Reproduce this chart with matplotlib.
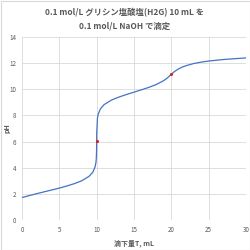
import matplotlib
matplotlib.use("Agg")
import matplotlib.pyplot as plt

# Titration curve values
volume_ml = [0, 1, 2, 3, 4, 5, 6, 7, 8, 9, 9.5, 9.8, 9.9, 9.95, 9.99, 10,
             10.01, 10.05, 10.1, 10.2, 10.5, 11, 12, 13, 14, 15, 16, 17, 18,
             19, 19.5, 19.75, 20, 20.5, 21, 21.5, 22, 23, 24, 25, 26, 27, 28, 29, 30]
ph_values = [1.72, 1.87, 2.02, 2.16, 2.30, 2.44, 2.60, 2.78, 3.00, 3.35, 3.67,
             4.09, 4.39, 4.69, 5.37, 6.06, 6.75, 7.10, 7.78, 8.09, 8.50, 8.83,
             9.18, 9.41, 9.60, 9.78, 9.96, 10.15, 10.37, 10.67, 10.88, 11.02, 11.15,
             11.39, 11.57, 11.71, 11.81, 11.97, 12.08, 12.16, 12.22, 12.28, 12.32,
             12.36, 12.40]
eq_volume = [10, 20]
eq_ph = [6.06, 11.15]

title_lines = ["0.1 mol/L グリシン塩酸塩(H2G) 10 mL を", "0.1 mol/L NaOH で滴定"]
x_label = "滴下量T, mL"
y_label = "pH"
x_ticks = [0, 5, 10, 15, 20, 25, 30]
y_ticks = [0, 2, 4, 6, 8, 10, 12, 14]

plt.rcParams['font.family'] = ['Noto Sans CJK JP', 'DejaVu Sans']

fig = plt.figure(figsize=(2.5, 2.5), dpi=100)
fig.patch.set_facecolor("white")
ax = fig.add_axes([0.088, 0.12, 0.896, 0.732])

ax.plot(volume_ml, ph_values, color="#4472C4", lw=0.9, zorder=3)
ax.scatter(eq_volume, eq_ph, color="#E0201B", s=5, zorder=4, linewidths=0)

ax.set_xlim(0, 30)
ax.set_ylim(0, 14)
ax.set_xticks(x_ticks)
ax.set_yticks(y_ticks)
ax.grid(True, color="#D9D9D9", lw=0.6)
ax.set_axisbelow(True)
for s in ax.spines.values():
    s.set_visible(False)
ax.tick_params(length=0, labelsize=4.5, colors="#595959", pad=4)

ax.set_xlabel(x_label, fontsize=5, fontweight="bold", color="#595959", labelpad=4)
ax.set_ylabel(y_label, fontsize=5, fontweight="bold", color="#595959")
ax.yaxis.set_label_coords(-0.052, 0.5)

fig.text(0.5, 1 - 13 / 250, title_lines[0], ha="center", va="center",
         fontsize=6, fontweight="bold", color="#595959")
fig.text(0.5, 1 - 26 / 250, title_lines[1], ha="center", va="center",
         fontsize=6, fontweight="bold", color="#595959")

fig.add_artist(plt.Rectangle((0.002, 0.002), 0.996, 0.996, transform=fig.transFigure,
                             fill=False, edgecolor="#D9D9D9", lw=0.8))

fig.savefig("out.png", dpi=100)
